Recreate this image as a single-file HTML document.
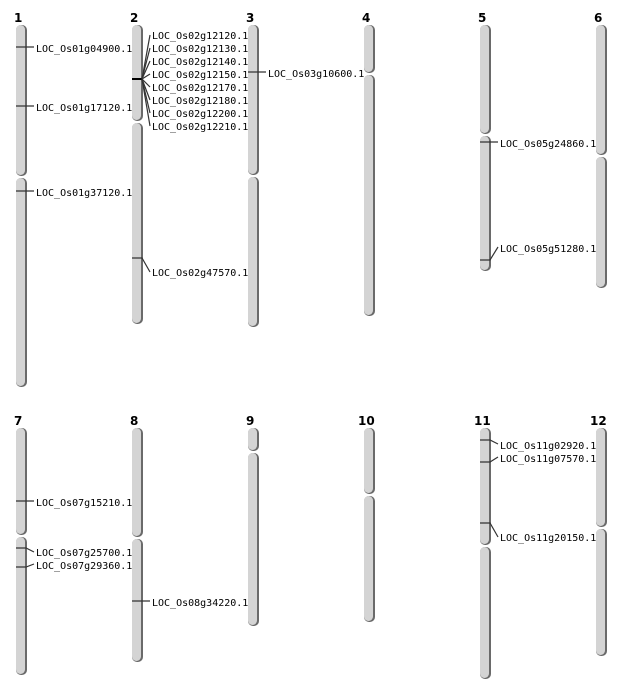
<!DOCTYPE html>
<html><head><meta charset="utf-8"><style>
body{margin:0;background:#fff}
svg{display:block}
.d{fill:#6a6a6a}
.l{fill:#d4d4d4}
.t{font-family:"DejaVu Sans Mono","Liberation Mono",monospace;font-size:10px;fill:#000}
.n{font-family:"DejaVu Sans","Liberation Sans",sans-serif;font-size:12px;font-weight:bold;fill:#000}
line,polyline{stroke:#333;stroke-width:1.2;fill:none}
</style></head><body>
<svg width="634" height="700" viewBox="0 0 634 700" xmlns="http://www.w3.org/2000/svg">
<defs>
<symbol id="x"></symbol>
</defs>
<!-- chromosome arms: dark shadow rect then light rect -->
<g>
<!-- 1 -->
<rect class="d" x="16" y="25" width="11" height="151" rx="5"/><rect class="l" x="16" y="25" width="9" height="150" rx="4.5"/>
<rect class="d" x="16" y="178" width="11" height="209" rx="5"/><rect class="l" x="16" y="178" width="9" height="208" rx="4.5"/>
<!-- 2 -->
<rect class="d" x="132" y="25" width="11" height="96" rx="5"/><rect class="l" x="132" y="25" width="9" height="95" rx="4.5"/>
<rect class="d" x="132" y="123" width="11" height="201" rx="5"/><rect class="l" x="132" y="123" width="9" height="200" rx="4.5"/>
<!-- 3 -->
<rect class="d" x="248" y="25" width="11" height="150" rx="5"/><rect class="l" x="248" y="25" width="9" height="149" rx="4.5"/>
<rect class="d" x="248" y="177" width="11" height="150" rx="5"/><rect class="l" x="248" y="177" width="9" height="149" rx="4.5"/>
<!-- 4 -->
<rect class="d" x="364" y="25" width="11" height="48" rx="5"/><rect class="l" x="364" y="25" width="9" height="47" rx="4.5"/>
<rect class="d" x="364" y="75" width="11" height="241" rx="5"/><rect class="l" x="364" y="75" width="9" height="240" rx="4.5"/>
<!-- 5 -->
<rect class="d" x="480" y="25" width="11" height="109" rx="5"/><rect class="l" x="480" y="25" width="9" height="108" rx="4.5"/>
<rect class="d" x="480" y="136" width="11" height="135" rx="5"/><rect class="l" x="480" y="136" width="9" height="134" rx="4.5"/>
<!-- 6 -->
<rect class="d" x="596" y="25" width="11" height="130" rx="5"/><rect class="l" x="596" y="25" width="9" height="129" rx="4.5"/>
<rect class="d" x="596" y="157" width="11" height="131" rx="5"/><rect class="l" x="596" y="157" width="9" height="130" rx="4.5"/>
<!-- 7 -->
<rect class="d" x="16" y="428" width="11" height="107" rx="5"/><rect class="l" x="16" y="428" width="9" height="106" rx="4.5"/>
<rect class="d" x="16" y="537" width="11" height="138" rx="5"/><rect class="l" x="16" y="537" width="9" height="137" rx="4.5"/>
<!-- 8 -->
<rect class="d" x="132" y="428" width="11" height="109" rx="5"/><rect class="l" x="132" y="428" width="9" height="108" rx="4.5"/>
<rect class="d" x="132" y="539" width="11" height="123" rx="5"/><rect class="l" x="132" y="539" width="9" height="122" rx="4.5"/>
<!-- 9 -->
<rect class="d" x="248" y="428" width="11" height="23" rx="5"/><rect class="l" x="248" y="428" width="9" height="22" rx="4.5"/>
<rect class="d" x="248" y="453" width="11" height="173" rx="5"/><rect class="l" x="248" y="453" width="9" height="172" rx="4.5"/>
<!-- 10 -->
<rect class="d" x="364" y="428" width="11" height="66" rx="5"/><rect class="l" x="364" y="428" width="9" height="65" rx="4.5"/>
<rect class="d" x="364" y="496" width="11" height="126" rx="5"/><rect class="l" x="364" y="496" width="9" height="125" rx="4.5"/>
<!-- 11 -->
<rect class="d" x="480" y="428" width="11" height="117" rx="5"/><rect class="l" x="480" y="428" width="9" height="116" rx="4.5"/>
<rect class="d" x="480" y="547" width="11" height="132" rx="5"/><rect class="l" x="480" y="547" width="9" height="131" rx="4.5"/>
<!-- 12 -->
<rect class="d" x="596" y="428" width="11" height="99" rx="5"/><rect class="l" x="596" y="428" width="9" height="98" rx="4.5"/>
<rect class="d" x="596" y="529" width="11" height="127" rx="5"/><rect class="l" x="596" y="529" width="9" height="126" rx="4.5"/>
</g>
<!-- numbers -->
<text class="n" x="14" y="22">1</text><text class="n" x="130" y="22">2</text><text class="n" x="246" y="22">3</text>
<text class="n" x="362" y="22">4</text><text class="n" x="478" y="22">5</text><text class="n" x="594" y="22">6</text>
<text class="n" x="14" y="425">7</text><text class="n" x="130" y="425">8</text><text class="n" x="246" y="425">9</text>
<text class="n" x="358" y="425">10</text><text class="n" x="474" y="425">11</text><text class="n" x="590" y="425">12</text>
<!-- markers -->
<polyline points="16,47 34,47"/><polyline points="16,106 34,106"/><polyline points="16,191 34,191"/>
<line x1="132" y1="79" x2="143" y2="79" style="stroke-width:2;stroke:#000"/>
<polyline points="142,79 150,35"/><polyline points="142,79 150,48"/><polyline points="142,79 150,61"/><polyline points="142,79 150,74"/>
<polyline points="142,79 150,87"/><polyline points="142,79 150,100"/><polyline points="142,79 150,113"/><polyline points="142,79 150,126"/>
<polyline points="132,258 142,258 150,272"/>
<polyline points="248,72 266,72"/>
<polyline points="480,142 498,142"/>
<polyline points="480,260 490,260 498,247"/>
<polyline points="16,501 34,501"/>
<polyline points="16,548 26,548 34,552"/><polyline points="16,567 26,567 34,564"/>
<polyline points="132,601 150,601"/>
<polyline points="480,440 490,440 498,444"/><polyline points="480,462 490,462 498,457"/><polyline points="480,523 490,523 498,537"/>
<!-- labels -->
<g class="t">
<text x="36" y="52">LOC_Os01g04900.1</text>
<text x="36" y="111">LOC_Os01g17120.1</text>
<text x="36" y="196">LOC_Os01g37120.1</text>
<text x="152" y="39">LOC_Os02g12120.1</text>
<text x="152" y="52">LOC_Os02g12130.1</text>
<text x="152" y="65">LOC_Os02g12140.1</text>
<text x="152" y="78">LOC_Os02g12150.1</text>
<text x="152" y="91">LOC_Os02g12170.1</text>
<text x="152" y="104">LOC_Os02g12180.1</text>
<text x="152" y="117">LOC_Os02g12200.1</text>
<text x="152" y="130">LOC_Os02g12210.1</text>
<text x="152" y="276">LOC_Os02g47570.1</text>
<text x="268" y="77">LOC_Os03g10600.1</text>
<text x="500" y="147">LOC_Os05g24860.1</text>
<text x="500" y="252">LOC_Os05g51280.1</text>
<text x="36" y="506">LOC_Os07g15210.1</text>
<text x="36" y="556">LOC_Os07g25700.1</text>
<text x="36" y="569">LOC_Os07g29360.1</text>
<text x="152" y="606">LOC_Os08g34220.1</text>
<text x="500" y="449">LOC_Os11g02920.1</text>
<text x="500" y="462">LOC_Os11g07570.1</text>
<text x="500" y="541">LOC_Os11g20150.1</text>
</g>
</svg>
</body></html>
